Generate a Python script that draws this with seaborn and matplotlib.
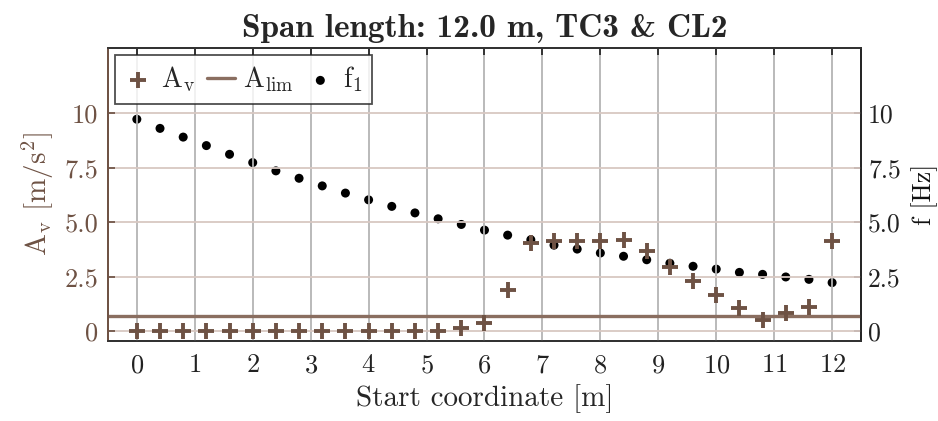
import numpy as np
import pandas as pd
import matplotlib
matplotlib.use("Agg")
import matplotlib.pyplot as plt
import seaborn as sns

# Datos
start_coord = np.round(np.arange(0, 12.01, 0.4), 1)
a_v = [0, 0, 0, 0, 0, 0, 0, 0, 0, 0, 0, 0,
       0, 0, 0.14, 0.37, 1.91, 4.05, 4.12, 4.15, 4.15, 4.20,
       3.66, 2.95, 2.29, 1.68, 1.08, 0.52, 0.84, 1.10, 4.14]
f_1 = [9.73, 9.31, 8.91, 8.52, 8.12, 7.74, 7.36, 7.02, 6.67, 6.34, 6.03, 5.73,
       5.43, 5.16, 4.90, 4.64, 4.41, 4.20, 3.95, 3.77, 3.59, 3.44,
       3.28, 3.12, 2.98, 2.85, 2.70, 2.61, 2.49, 2.38, 2.23]
a_lim = 0.7
y_ticks = [0, 2.5, 5.0, 7.5, 10]
y_ticklabels = ["0", "2.5", "5.0", "7.5", "10"]

data = pd.DataFrame({"x": start_coord, "Av": a_v, "f1": f_1})

brown = "#6e5244"
brown_line = "#8a6e60"

sns.set_theme(style="white")
plt.rcParams["font.family"] = ["cmr10", "DejaVu Serif"]
plt.rcParams["mathtext.fontset"] = "cm"
plt.rcParams["axes.formatter.use_mathtext"] = True

fig, ax = plt.subplots(figsize=(9.38, 4.21), dpi=100)
fig.subplots_adjust(left=0.115, right=0.918, top=0.886, bottom=0.19)
ax2 = ax.twinx()

ax.axhline(a_lim, color=brown_line, lw=2.4, zorder=2, label=r"A$_\mathrm{lim}$")
sns.scatterplot(data=data, x="x", y="Av", ax=ax, marker="+", s=130,
                color=brown, linewidth=2.8, zorder=3, label=r"A$_\mathrm{v}$")
sns.scatterplot(data=data, x="x", y="f1", ax=ax2, marker="o", s=42,
                color="black", edgecolor="none", zorder=3, label=r"f$_1$")

for a in (ax, ax2):
    a.set_xlim(-0.5, 12.5)
    a.set_ylim(-0.45, 13.0)
    a.set_yticks(y_ticks)
    a.set_yticklabels(y_ticklabels)

ax.set_xticks(range(0, 13))
ax.xaxis.grid(True, color="#b4b4b4", lw=1.3)
ax.yaxis.grid(True, color="#d8c8c2", lw=1.3)
ax.set_axisbelow(True)

ax.tick_params(axis="x", direction="in", top=True, length=5, labelsize=19,
               colors="#222222", pad=9)
ax.tick_params(axis="y", direction="in", length=5, labelsize=19,
               colors=brown, pad=7)
ax2.tick_params(axis="y", direction="in", length=5, labelsize=18.5,
                colors="#222222", pad=5)

for s in ("top", "bottom"):
    ax.spines[s].set_color("#333333")
ax.spines["left"].set_color(brown)
ax2.spines["left"].set_color(brown)
ax2.spines["right"].set_color("#111111")
for a in (ax, ax2):
    for s in a.spines.values():
        s.set_linewidth(1.3)

ax.set_xlabel("Start coordinate [m]", fontsize=21, labelpad=5)
ax.set_ylabel(r"A$_\mathrm{v}$ [m/s$^2$]", fontsize=21, color=brown, labelpad=6)
ax2.set_ylabel("f [Hz]", fontsize=18.5, color="#111111")
ax2.yaxis.set_label_coords(1.067, 0.5)
ax.set_title("Span length: 12.0 m, TC3 & CL2", fontsize=24,
             family=["cmb10", "DejaVu Serif"], pad=8)

h1, l1 = ax.get_legend_handles_labels()
h2, l2 = ax2.get_legend_handles_labels()
ax2.get_legend().remove()
order = [l1.index(r"A$_\mathrm{v}$"), l1.index(r"A$_\mathrm{lim}$")]
leg = ax.legend([h1[i] for i in order] + h2, [l1[i] for i in order] + l2,
                loc="upper left", ncol=3, fontsize=20, frameon=True,
                fancybox=False, edgecolor="#222222", handlelength=1.0,
                columnspacing=0.45, handletextpad=0.3,
                borderaxespad=0.25, borderpad=0.35)
leg.get_frame().set_linewidth(1.3)
ax.set_zorder(ax2.get_zorder() + 1)
ax.patch.set_visible(False)

fig.savefig("out.png", dpi=100)
